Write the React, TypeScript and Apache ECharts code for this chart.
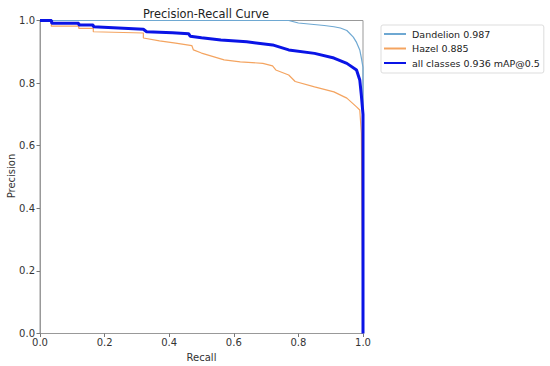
import React, { useEffect, useRef } from "react";
import * as echarts from "echarts";

const dandelionRecall = [0, 0.77, 0.8, 0.84, 0.88, 0.91, 0.93, 0.95, 0.97, 0.98, 0.99, 0.995, 1.0, 1.0];
const dandelionPrecision = [1.0, 1.0, 0.992, 0.988, 0.984, 0.98, 0.976, 0.968, 0.947, 0.93, 0.906, 0.88, 0.85, 0.0];

const hazelRecall = [0, 0.035, 0.035, 0.12, 0.12, 0.165, 0.165, 0.32, 0.32, 0.37, 0.42, 0.47, 0.475, 0.5, 0.57, 0.62, 0.69, 0.72, 0.73, 0.77, 0.79, 0.85, 0.91, 0.95, 0.98, 0.99, 0.995, 1.0];
const hazelPrecision = [1.0, 1.0, 0.982, 0.982, 0.975, 0.975, 0.964, 0.96, 0.944, 0.935, 0.928, 0.92, 0.906, 0.896, 0.874, 0.868, 0.863, 0.855, 0.842, 0.826, 0.805, 0.788, 0.772, 0.752, 0.724, 0.714, 0.64, 0.0];

const allRecall = [0, 0.036, 0.036, 0.12, 0.12, 0.165, 0.165, 0.32, 0.33, 0.41, 0.46, 0.465, 0.5, 0.56, 0.64, 0.72, 0.77, 0.85, 0.91, 0.95, 0.98, 0.99, 0.995, 1.0, 1.0];
const allPrecision = [1.0, 1.0, 0.991, 0.991, 0.986, 0.986, 0.98, 0.972, 0.964, 0.961, 0.958, 0.95, 0.945, 0.938, 0.932, 0.922, 0.906, 0.895, 0.88, 0.863, 0.842, 0.81, 0.76, 0.7, 0.0];

const seriesNames = ["Dandelion 0.987", "Hazel 0.885", "all classes 0.936 mAP@0.5"];
const yAxisTitle = "Precision";

const zip = (a: number[], b: number[]) => a.map((v, i) => [v, b[i]]);

const FONT = "DejaVu Sans";

export default function App() {
  const ref = useRef<HTMLDivElement>(null);
  useEffect(() => {
    if (!ref.current) return;
    const chart = echarts.init(ref.current, undefined, { renderer: "svg" });
    const axisCommon = {
      type: "value" as const,
      min: 0,
      max: 1,
      interval: 0.2,
      axisLine: { show: true, lineStyle: { color: "#999", width: 1 } },
      axisTick: { show: true, inside: false, length: 3.5, lineStyle: { color: "#777" } },
      splitLine: { show: false },
      axisLabel: {
        color: "#333",
        fontSize: 10,
        fontFamily: FONT,
        formatter: (v: number) => v.toFixed(1),
      },
      nameLocation: "middle" as const,
      nameTextStyle: { color: "#333", fontSize: 10, fontFamily: FONT },
    };
    chart.setOption({
      animation: false,
      backgroundColor: "#fff",
      title: {
        text: "Precision-Recall Curve",
        left: 201,
        top: 3,
        textAlign: "center",
        textStyle: { fontSize: 11.4, fontWeight: "normal", color: "#222", fontFamily: FONT },
      },
      grid: {
        left: 40,
        top: 20.5,
        width: 323,
        height: 313,
        show: true,
        borderColor: "#999",
        borderWidth: 1,
        backgroundColor: "transparent",
        containLabel: false,
        outerBoundsMode: "none",
      },
      xAxis: {
        ...axisCommon,
        name: "Recall",
        nameGap: 18,
        axisLabel: { ...axisCommon.axisLabel, margin: 4 },
      },
      yAxis: {
        ...axisCommon,
        axisLabel: { ...axisCommon.axisLabel, margin: 5 },
      },
      graphic: [
        {
          type: "text",
          x: 11,
          y: 176,
          rotation: Math.PI / 2,
          style: {
            text: yAxisTitle,
            fill: "#333",
            font: `10px "${FONT}"`,
            align: "center",
            verticalAlign: "middle",
          },
        },
      ],
      legend: {
        orient: "vertical",
        left: 381,
        top: 25,
        itemWidth: 22,
        itemHeight: 9,
        itemGap: 4.5,
        padding: [4, 4, 5, 2],
        borderColor: "#ddd",
        borderWidth: 1,
        borderRadius: 2,
        itemStyle: { color: "rgba(0,0,0,0)", borderWidth: 0, opacity: 0 },
        textStyle: { fontSize: 9.5, color: "#222", fontFamily: FONT, padding: [0, 0, 0, 1] },
        data: seriesNames,
      },
      series: [
        {
          name: seriesNames[0],
          type: "line",
          symbol: "none",
          data: zip(dandelionRecall, dandelionPrecision),
          lineStyle: { color: "#6ea8d2", width: 1.2 },
          itemStyle: { color: "#6ea8d2" },
        },
        {
          name: seriesNames[1],
          type: "line",
          symbol: "none",
          data: zip(hazelRecall, hazelPrecision),
          lineStyle: { color: "#f4a460", width: 1.2 },
          itemStyle: { color: "#f4a460" },
        },
        {
          name: seriesNames[2],
          type: "line",
          symbol: "none",
          data: zip(allRecall, allPrecision),
          lineStyle: { color: "#0a14e6", width: 3 },
          itemStyle: { color: "#0a14e6" },
        },
      ],
    });
    return () => chart.dispose();
  }, []);
  return (
    <div
      ref={ref}
      style={{ position: "fixed", left: 0, top: 0, width: 550, height: 366 }}
    />
  );
}
